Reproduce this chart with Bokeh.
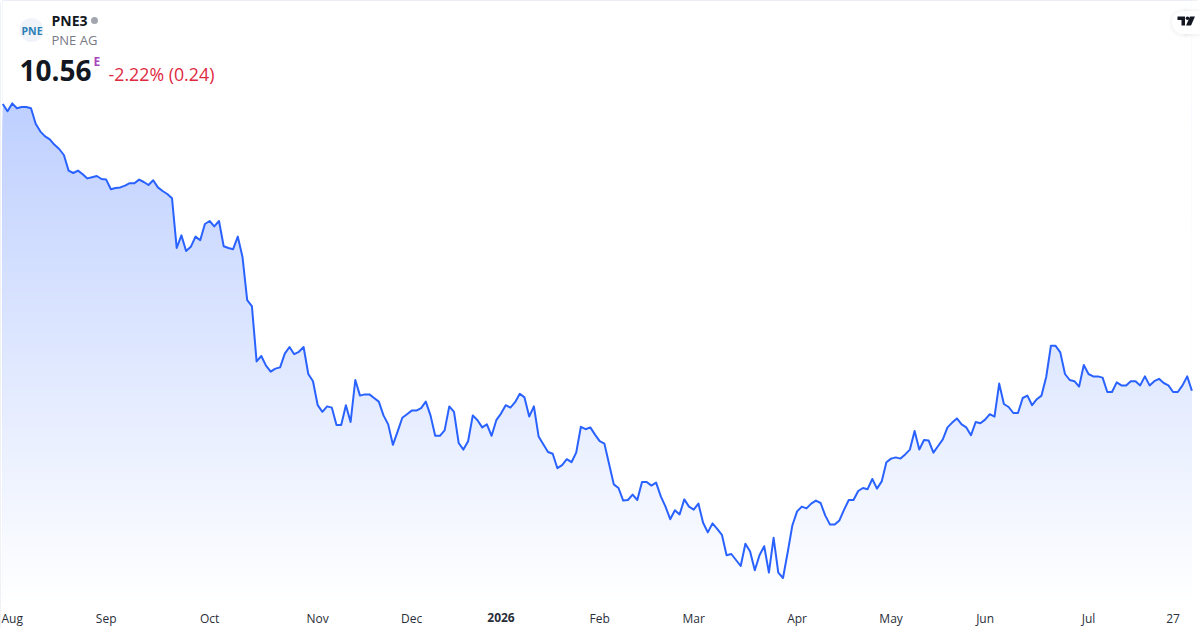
from bokeh.plotting import figure
from bokeh.models import Range1d, FixedTicker, Label, LinearAxis
from bokeh.embed import file_html
from bokeh.resources import INLINE
import numpy as np

prices = [
 15.34,15.22,15.35,15.27,15.29,15.29,15.27,15.01,14.88,14.80,14.75,14.66,14.59,14.49,14.23,14.19,
 14.23,14.17,14.10,14.12,14.14,14.09,14.08,13.92,13.94,13.95,13.98,14.02,14.02,14.08,14.04,13.99,
 14.07,13.95,13.89,13.84,13.77,12.94,13.15,12.89,12.96,13.13,13.07,13.34,13.39,13.30,13.39,12.97,
 12.94,12.92,13.13,12.79,12.07,11.97,11.05,11.14,10.98,10.88,10.93,10.95,11.18,11.29,11.17,11.21,
 11.29,10.84,10.72,10.32,10.21,10.30,10.28,9.99,9.99,10.32,10.04,10.74,10.48,10.50,10.50,10.44,
 10.38,10.15,10.00,9.66,9.88,10.11,10.17,10.23,10.23,10.27,10.38,10.15,9.81,9.81,9.90,10.30,
 10.21,9.69,9.58,9.72,10.15,10.07,9.95,10.00,9.81,10.07,10.18,10.32,10.28,10.37,10.51,10.45,
 10.13,10.30,9.80,9.67,9.54,9.51,9.27,9.32,9.42,9.37,9.53,9.96,9.92,9.95,9.83,9.72,
 9.68,9.34,9.00,8.94,8.73,8.74,8.83,8.74,9.04,9.04,8.98,9.03,8.80,8.63,8.42,8.57,
 8.50,8.75,8.63,8.58,8.68,8.36,8.20,8.35,8.26,8.16,7.82,7.84,7.74,7.64,8.01,7.88,
 7.57,7.82,7.97,7.53,8.11,7.53,7.44,7.87,8.32,8.55,8.63,8.60,8.68,8.73,8.69,8.48,
 8.33,8.33,8.40,8.58,8.74,8.74,8.89,8.94,8.92,9.09,8.93,9.05,9.37,9.43,9.45,9.43,
 9.50,9.58,9.89,9.58,9.74,9.73,9.53,9.64,9.75,9.95,10.03,10.10,10.00,9.95,9.82,10.04,
 10.02,10.08,10.17,10.13,10.68,10.34,10.29,10.19,10.19,10.44,10.48,10.32,10.42,10.48,10.79,11.31,
 11.31,11.20,10.84,10.74,10.72,10.63,10.99,10.84,10.80,10.80,10.78,10.54,10.54,10.70,10.65,10.65,
 10.72,10.72,10.65,10.80,10.65,10.72,10.76,10.69,10.65,10.54,10.54,10.65,10.80,10.56,
]
tick_index = [2, 22, 44, 67, 87, 127, 147, 169, 189, 209, 231, 249]
tick_labels = ["Aug", "Sep", "Oct", "Nov", "Dec", "Feb", "Mar", "Apr", "May", "Jun", "Jul", "27"]
year_tick_index = [106]
year_tick_labels = ["2026"]

W, H = 1200, 630
BLUE = "#2962FF"
X0, X1 = -0.489, 254.83
Y1 = 17.065
Y0 = Y1 - H / 60

def px(x):
    return X0 + (X1 - X0) * x / W
def py(y):
    return Y1 - (Y1 - Y0) * y / H

p = figure(width=W, height=H, output_backend="svg", toolbar_location=None,
           x_range=Range1d(X0, X1), y_range=Range1d(Y0, Y1),
           x_axis_location=None, y_axis_location=None,
           min_border=0, min_border_left=0, min_border_right=0, min_border_top=0, min_border_bottom=0,
           background_fill_color="white", border_fill_color="white")
p.outline_line_color = None
p.grid.visible = False

def add_axis(ticks, labels, style, standoff):
    ax = LinearAxis(fixed_location=py(600), ticker=FixedTicker(ticks=ticks),
                    major_label_overrides={t: l for t, l in zip(ticks, labels)})
    ax.axis_line_color = None
    ax.major_tick_line_color = None
    ax.minor_tick_line_color = None
    ax.major_tick_out = 0
    ax.major_tick_in = 0
    ax.major_label_text_font = "Open Sans"
    ax.major_label_text_font_size = "12px"
    ax.major_label_text_font_style = style
    ax.major_label_text_color = "#2A2E39"
    ax.major_label_standoff = standoff
    p.add_layout(ax, "below")

add_axis(tick_index, tick_labels, "normal", 9)
add_axis(year_tick_index, year_tick_labels, "bold", 12)

# vertical gradient under the line, then white above it
x = np.arange(len(prices))
n = len(prices) - 1
steps = 120
for k in range(steps):
    t = k / (steps - 1)
    a = 0.30 * (1 - t)
    r = round(255 - 214 * a); g = round(255 - 157 * a)
    top = py(103 + (600 - 103) * t) if k else Y1
    p.quad(left=0, right=n, top=top, bottom=py(600), fill_color=f"#{r:02x}{g:02x}ff", line_color=None)
p.varea(x=x, y1=prices, y2=Y1, fill_color="white")
p.line(x, prices, line_color=BLUE, line_width=2, line_join="round")

# header
p.scatter([px(31)], [py(29.5)], size=24, fill_color="#F0F3FA", line_color=None)
p.scatter([px(94)], [py(20)], size=7, fill_color="#A3A6AF", line_color=None)

def lab(text, x, base, size, color, style="normal"):
    p.add_layout(Label(x=px(x), y=py(base), text=text, text_font="Open Sans", text_font_size=f"{size}px",
                       text_color=color, text_font_style=style, text_baseline="alphabetic"))

lab("PNE", 21, 30, 10.5, "#2C7FB5", "bold")
lab("PNE3", 51, 20, 14, "#131722", "bold")
lab("PNE AG", 51, 39, 13, "#787B86")
lab("10.56", 19, 70, 28, "#131722", "bold")
lab("E", 93, 61, 12, "#AB47BC", "bold")
lab("-2.22% (0.24)", 108, 73, 17.8, "#E0293F")

# logo pill with a soft shadow
for grow, alpha in [(4, 0.008), (2.5, 0.012), (1.2, 0.015)]:
    p.scatter([px(1183)], [py(22.5)], size=23 + 2 * grow, fill_color="#000000", fill_alpha=alpha, line_color=None)
    p.quad(left=px(1183), right=px(1199), top=py(11 - grow), bottom=py(34 + grow),
           fill_color="#000000", fill_alpha=alpha, line_color=None)
p.scatter([px(1183)], [py(22)], size=23, fill_color="white", line_color=None)
p.quad(left=px(1183), right=px(1199), top=py(10.5), bottom=py(33.5), fill_color="white", line_color=None)
p.patches(
    [[px(v) for v in xs] for xs in [[1177, 1184.5, 1184.5, 1181, 1181, 1177], [1189.5, 1194.5, 1190.5, 1185.5]]],
    [[py(v) for v in ys] for ys in [[16, 16, 25, 25, 19.5, 19.5], [16, 16, 25, 25]]],
    fill_color="#131722", line_color=None)
p.scatter([px(1187)], [py(17.8)], size=3.6, fill_color="#131722", line_color=None)

# rounded frame of the card, drawn over the figure without changing its size
p.styles = {"outline": "1px solid #E0E3EB", "outline-offset": "-1px", "border-radius": "4px"}

open("out.html", "w").write(file_html(p, INLINE))
